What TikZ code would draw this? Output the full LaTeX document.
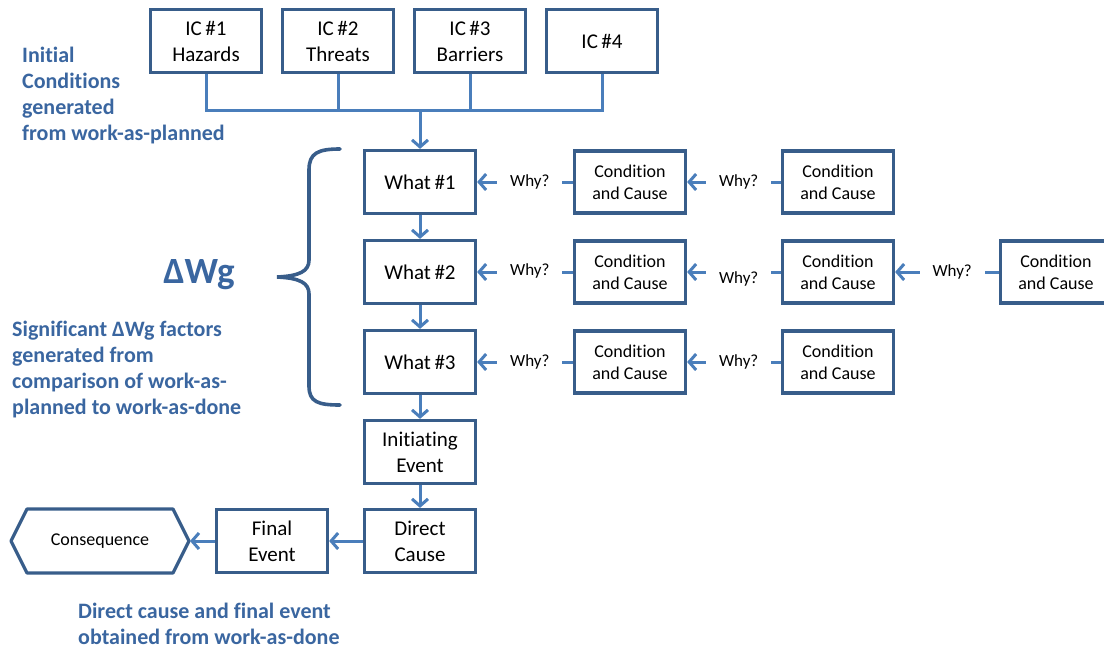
\documentclass[tikz,border=0pt]{standalone}
\usepackage{fontspec}
\setmainfont{Carlito}[Ligatures=NoCommon]
\usetikzlibrary{arrows.meta,calc}
\definecolor{boxblue}{HTML}{385D8A}
\definecolor{linkblue}{HTML}{4A7EBB}
\definecolor{noteblue}{HTML}{3A66A0}
\begin{document}
\begin{tikzpicture}[x=1pt,y=-1pt,
  stepbox/.style={draw=boxblue,line width=3.2pt,minimum width=111pt,minimum height=63pt,
    inner sep=0pt,align=center,font=\fontsize{21}{26}\selectfont},
  condbox/.style={stepbox,minimum height=62pt,font=\fontsize{18}{22}\selectfont},
  wire/.style={draw=linkblue,line width=3pt},
  link/.style={wire,-{Straight Barb[length=7pt,width=16pt]}},
  why/.style={fill=white,inner xsep=13pt,inner ysep=3pt,pos=0.45,font=\fontsize{17}{20}\selectfont},
  note/.style={text=noteblue,font=\bfseries\fontsize{22}{26}\selectfont,align=left,inner sep=0pt,anchor=north west}]
\useasboundingbox (0,0) rectangle (1104,649);

% initial conditions
\node[stepbox] (ic1) at (206,41) {IC\,\#1\\Hazards};
\node[stepbox] (ic2) at (338,41) {IC\,\#2\\Threats};
\node[stepbox] (ic3) at (470,41) {IC\,\#3\\Barriers};
\node[stepbox] (ic4) at (602,41) {IC\,\#4};
\coordinate (bus) at (420,110);

% main chain
\node[stepbox] (w1) at (420,182) {What\,\#1};
\node[stepbox] (w2) at (420,272) {What\,\#2};
\node[stepbox] (w3) at (420,362) {What\,\#3};
\node[stepbox] (init) at (420,452) {Initiating\\Event};
\node[stepbox] (dc) at (420,541) {Direct\\Cause};
\node[stepbox] (fe) at (272,541) {Final\\Event};
\node[font=\fontsize{18}{22}\selectfont,inner sep=0pt] (cons) at (100,541) {Consequence};
\draw[draw=boxblue,line width=3.2pt,line join=round]
  ($(cons.center)+(-89,0)$) -- ($(cons.center)+(-73,-32)$) -- ($(cons.center)+(73,-32)$)
  -- ($(cons.center)+(89,0)$) -- ($(cons.center)+(73,32)$) -- ($(cons.center)+(-73,32)$) -- cycle;
\coordinate (constip) at ($(cons.center)+(90,0)$);

% conditions and causes
\node[condbox] (c11) at (630,182) {Condition\\and Cause};
\node[condbox] (c21) at (630,272) {Condition\\and Cause};
\node[condbox] (c31) at (630,362) {Condition\\and Cause};
\node[condbox] (c12) at (838,182) {Condition\\and Cause};
\node[condbox] (c22) at (838,272) {Condition\\and Cause};
\node[condbox] (c32) at (838,362) {Condition\\and Cause};
\node[condbox] (c23) at (1056,272) {Condition\\and Cause};

% bus from the initial conditions
\draw[wire] (ic1.south) |- (ic4.south |- bus) -- (ic4.south);
\draw[wire] (ic2.south) -- (ic2.south |- bus);
\draw[wire] (ic3.south) -- (ic3.south |- bus);
\draw[link] (bus) -- (w1.north);

% downward flow
\draw[link] (w1) -- (w2);
\draw[link] (w2) -- (w3);
\draw[link] (w3) -- (init);
\draw[link] (init) -- (dc);
\draw[link] (dc) -- (fe);
\draw[link] (fe) -- (constip);

% why links
\draw[link] (c11) -- node[why] {Why?} (w1);
\draw[link] (c21) -- node[why,yshift=1pt] {Why?} (w2);
\draw[link] (c31) -- node[why] {Why?} (w3);
\draw[link] (c12) -- node[why] {Why?} (c11);
\draw[link] (c22) -- node[why,yshift=-7pt] {Why?} (c21);
\draw[link] (c32) -- node[why] {Why?} (c31);
\draw[link] (c23) -- node[why] {Why?} (c22);

% brace grouping the what steps
\draw[draw=boxblue,line width=3.6pt,line cap=round]
  (340,149) .. controls (318,149) and (309,153) .. (309,170) -- (309,260)
  .. controls (309,271) and (300,276) .. (277,277)
  .. controls (300,278) and (309,283) .. (309,294) -- (309,386)
  .. controls (309,402) and (318,405) .. (340,405);

% notes
\node[note] (n1) at (22,47) {Initial\\Conditions\\generated\\from work-as-planned};
\node[text=noteblue,font=\bfseries\fontsize{37}{40}\selectfont,inner sep=0pt] (dwg) at (199,275) {ΔWg};
\node[note] (n2) at (12,321) {Significant ΔWg factors\\generated from\\comparison of work-as-\\planned to work-as-done};
\node[note] (n3) at (78,603) {Direct cause and final event\\obtained from work-as-done};
\end{tikzpicture}
\end{document}
